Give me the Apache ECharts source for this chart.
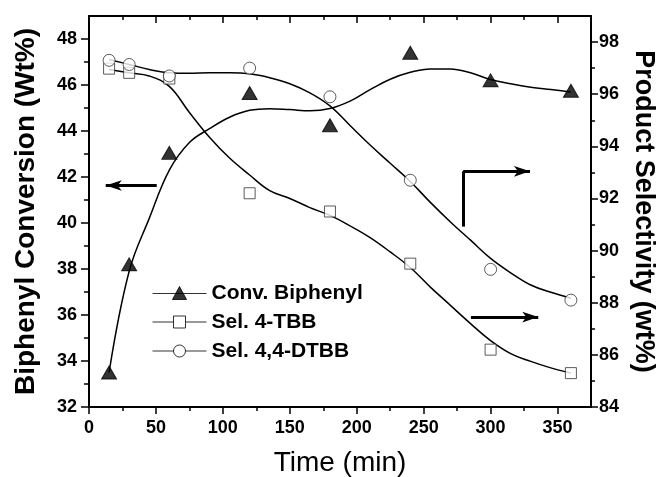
<!DOCTYPE html>
<html>
<head>
<meta charset="utf-8">
<script src="https://cdn.jsdelivr.net/npm/echarts@6/dist/echarts.min.js"></script>
<style>
  html, body { margin: 0; padding: 0; background: #fff; }
  #chart { width: 656px; height: 477px; }
</style>
</head>
<body>
<div id="chart"></div>
<script>
  // measured points
  const times = [15, 30, 60, 120, 180, 240, 300, 360];
  const convBiphenyl = [33.5, 38.2, 43.05, 45.65, 44.25, 47.4, 46.2, 45.75];
  const selTBB = [96.98, 96.82, 96.6, 92.2, 91.5, 89.5, 86.2, 85.3];
  const selDTBB = [97.3, 97.14, 96.7, 97.0, 95.9, 92.7, 89.28, 88.1];

  // fitted curves, every 15 min
  const fitTimes = [15, 30, 45, 60, 75, 90, 105, 120, 135, 150, 165, 180, 195, 210, 225, 240, 255, 270, 285, 300, 315, 330, 345, 360];
  const convFit = [33.5, 37.9, 40.2, 42.3, 43.5, 44.1, 44.6, 44.9, 44.97, 44.93, 44.88, 44.98, 45.3, 45.8, 46.25, 46.55, 46.7, 46.7, 46.53, 46.24, 46.05, 45.9, 45.8, 45.7];
  const tbbFit = [96.95, 96.82, 96.7, 96.3, 95.3, 94.35, 93.55, 92.9, 92.3, 92.0, 91.65, 91.35, 90.95, 90.5, 89.95, 89.35, 88.6, 87.9, 87.2, 86.55, 86.05, 85.75, 85.5, 85.3];
  const dtbbFit = [97.33, 97.14, 96.95, 96.82, 96.8, 96.82, 96.82, 96.78, 96.63, 96.4, 96.05, 95.55, 94.8, 94.05, 93.35, 92.65, 91.85, 91.1, 90.4, 89.7, 89.15, 88.68, 88.4, 88.17];

  // tick labels
  const xTicks = [0, 50, 100, 150, 200, 250, 300, 350];
  const xMinorTicks = [25, 75, 125, 175, 225, 275, 325];
  const leftTicks = [32, 34, 36, 38, 40, 42, 44, 46, 48];
  const leftMinorTicks = [33, 35, 37, 39, 41, 43, 45, 47];
  const rightTicks = [84, 86, 88, 90, 92, 94, 96, 98];
  const rightMinorTicks = [85, 87, 89, 91, 93, 95, 97];

  const pairs = (xs, ys) => xs.map((x, i) => [x, ys[i]]);

  const chart = echarts.init(document.getElementById("chart"));

  const labelFont = {
    color: "#000",
    fontFamily: "Liberation Sans, Arial, sans-serif",
    fontWeight: "bold",
    fontSize: 18,
  };
  const titleFont = {
    color: "#000",
    fontFamily: "Liberation Sans, Arial, sans-serif",
    fontWeight: "bold",
  };
  const black = { color: "#000", width: 2 };

  // helper for the extra axes that only carry ticks
  const tickAxis = (position, min, max, values, length, inside, showLine) => ({
    type: "value",
    position,
    min,
    max,
    axisLine: { show: showLine, onZero: false, lineStyle: black },
    axisTick: { show: true, inside, length, customValues: values, lineStyle: { color: "#000", width: 1.5 } },
    axisLabel: { show: false },
    splitLine: { show: false },
  });

  const fitLine = (name, data, yAxisIndex) => ({
    name,
    type: "line",
    xAxisIndex: 0,
    yAxisIndex,
    data,
    smooth: 0.4,
    symbol: "none",
    showSymbol: false,
    silent: true,
    z: 2,
    lineStyle: { color: "#000", width: 1.5 },
  });

  const arrowLine = { color: "#000", width: 3, type: "solid" };

  const option = {
    animation: false,
    backgroundColor: "#fff",
    grid: { left: 89, right: 65, top: 16, bottom: 70, outerBoundsMode: "none" },
    legend: {
      orient: "vertical",
      left: 152,
      top: 282,
      padding: 0,
      itemWidth: 54,
      itemHeight: 14,
      itemGap: 7,
      selectedMode: false,
      textStyle: {
        color: "#000",
        fontFamily: "Liberation Sans, Arial, sans-serif",
        fontWeight: "bold",
        fontSize: 21,
        lineHeight: 22,
      },
      data: [
        {
          name: "Conv. Biphenyl",
          icon: "path://M0,8 L54,8 M20,14 L27,1 L34,14 Z",
          itemStyle: { color: "#000", borderColor: "#000", borderWidth: 1 },
        },
        {
          name: "Sel. 4-TBB",
          icon: "path://M0,7 L21,7 M33,7 L54,7 M21,1 L33,1 L33,13 L21,13 Z",
          itemStyle: { color: "#fff", borderColor: "#000", borderWidth: 1 },
        },
        {
          name: "Sel. 4,4-DTBB",
          icon: "path://M0,7 L21,7 M33,7 L54,7 M21,7 A6,6 0 1 1 33,7 A6,6 0 1 1 21,7 Z",
          itemStyle: { color: "#fff", borderColor: "#000", borderWidth: 1 },
        },
      ],
    },
    xAxis: [
      {
        type: "value",
        position: "bottom",
        min: 0,
        max: 375,
        name: "Time (min)",
        nameLocation: "middle",
        nameGap: 42,
        nameTextStyle: { color: "#000", fontFamily: "Liberation Sans, Arial, sans-serif", fontSize: 28 },
        axisLine: { onZero: false, lineStyle: black },
        axisTick: { inside: false, length: 7, customValues: xTicks, lineStyle: { color: "#000", width: 1.5 } },
        axisLabel: { ...labelFont, margin: 12, customValues: xTicks },
        splitLine: { show: false },
      },
      tickAxis("bottom", 0, 375, xMinorTicks, 4, false, false),
      tickAxis("top", 0, 375, xTicks, 7, true, true),
      tickAxis("top", 0, 375, xMinorTicks, 4, true, false),
    ],
    yAxis: [
      {
        type: "value",
        position: "left",
        min: 32,
        max: 49,
        name: "Biphenyl Conversion (Wt%)",
        nameLocation: "middle",
        nameGap: 49,
        nameTextStyle: { ...titleFont, fontSize: 28 },
        axisLine: { onZero: false, lineStyle: black },
        axisTick: { inside: false, length: 8, customValues: leftTicks, lineStyle: { color: "#000", width: 1.5 } },
        axisLabel: { ...labelFont, margin: 12, customValues: leftTicks },
        splitLine: { show: false },
      },
      {
        type: "value",
        position: "right",
        min: 84,
        max: 99,
        name: "Product Selectivity (wt%)",
        nameLocation: "middle",
        nameGap: 39,
        nameRotate: -90,
        nameTextStyle: { ...titleFont, fontSize: 27 },
        axisLine: { onZero: false, lineStyle: black },
        axisTick: { inside: false, length: 7, customValues: rightTicks, lineStyle: { color: "#000", width: 1.5 } },
        axisLabel: { ...labelFont, margin: 8, customValues: rightTicks },
        splitLine: { show: false },
      },
      tickAxis("left", 32, 49, leftMinorTicks, 5, false, false),
      tickAxis("right", 84, 99, rightMinorTicks, 4, false, false),
    ],
    series: [
      {
        ...fitLine("convFit", pairs(fitTimes, convFit), 0),
        markLine: {
          silent: true,
          symbol: ["none", "arrow"],
          symbolSize: [8, 16],
          label: { show: false },
          lineStyle: arrowLine,
          data: [[{ coord: [50.6, 41.63] }, { coord: [12.5, 41.63] }]],
        },
      },
      {
        ...fitLine("tbbFit", pairs(fitTimes, tbbFit), 1),
        markLine: {
          silent: true,
          symbol: ["none", "arrow"],
          symbolSize: [8, 16],
          label: { show: false },
          lineStyle: arrowLine,
          data: [
            [{ coord: [279.5, 90.92], symbol: "none" }, { coord: [279.5, 93.04], symbol: "none" }],
            [{ coord: [279.5, 93.04] }, { coord: [329.4, 93.04] }],
            [{ coord: [285.3, 87.45] }, { coord: [335.6, 87.45] }],
          ],
        },
      },
      fitLine("dtbbFit", pairs(fitTimes, dtbbFit), 1),
      {
        name: "Conv. Biphenyl",
        type: "scatter",
        xAxisIndex: 0,
        yAxisIndex: 0,
        symbol: "triangle",
        symbolSize: [15, 13],
        z: 5,
        itemStyle: { color: "#000", borderColor: "#000", borderWidth: 1 },
        data: pairs(times, convBiphenyl),
      },
      {
        name: "Sel. 4-TBB",
        type: "scatter",
        xAxisIndex: 0,
        yAxisIndex: 1,
        symbol: "rect",
        symbolSize: 11,
        z: 5,
        itemStyle: { color: "#fff", borderColor: "#333", borderWidth: 1 },
        data: pairs(times, selTBB),
      },
      {
        name: "Sel. 4,4-DTBB",
        type: "scatter",
        xAxisIndex: 0,
        yAxisIndex: 1,
        symbol: "circle",
        symbolSize: 12,
        z: 6,
        itemStyle: { color: "#fff", borderColor: "#333", borderWidth: 1 },
        data: pairs(times, selDTBB),
      },
    ],
  };

  chart.setOption(option);
</script>
</body>
</html>
